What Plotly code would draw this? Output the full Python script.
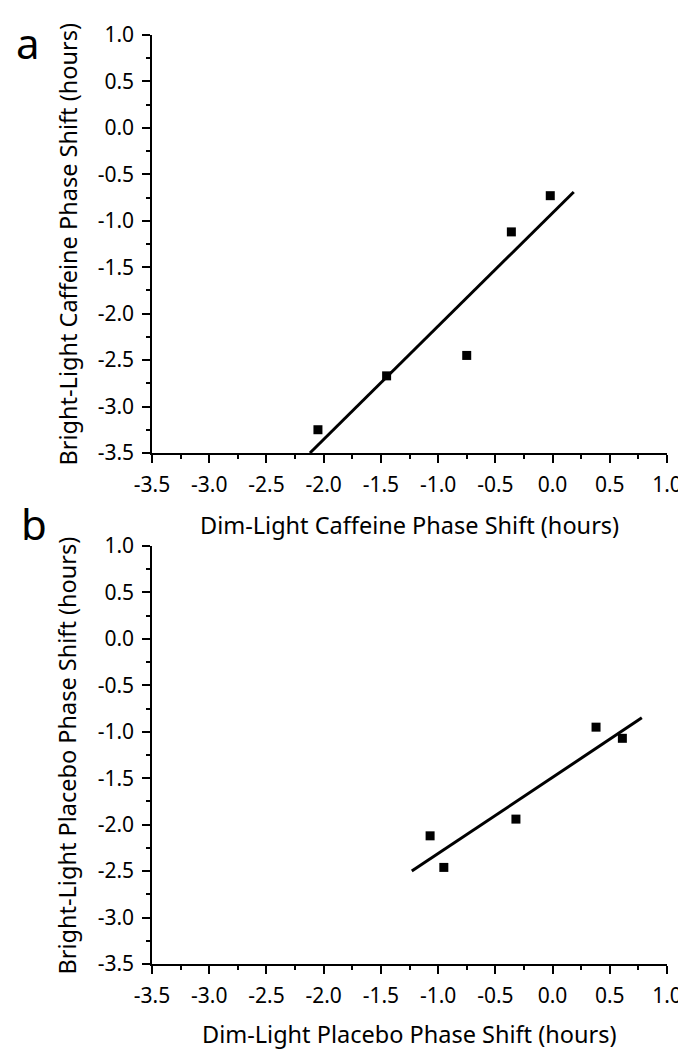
import plotly.graph_objects as go
from plotly.subplots import make_subplots

# ---- data ----
caff_dim = [-2.05, -1.45, -0.75, -0.36, -0.02]
caff_bright = [-3.25, -2.67, -2.45, -1.12, -0.73]
caff_fit_x = [-2.12, 0.185]
caff_fit_y = [-3.50, -0.69]

plac_dim = [-1.07, -0.95, -0.32, 0.38, 0.61]
plac_bright = [-2.12, -2.46, -1.94, -0.95, -1.07]
plac_fit_x = [-1.23, 0.78]
plac_fit_y = [-2.50, -0.85]

tick_vals = [-3.5, -3.0, -2.5, -2.0, -1.5, -1.0, -0.5, 0.0, 0.5, 1.0]
tick_text = ["-3.5", "-3.0", "-2.5", "-2.0", "-1.5", "-1.0", "-0.5", "0.0", "0.5", "1.0"]

x_titles = ["Dim-Light Caffeine Phase Shift (hours)", "Dim-Light Placebo Phase Shift (hours)"]
y_titles = ["Bright-Light Caffeine Phase Shift (hours)", "Bright-Light Placebo Phase Shift (hours)"]
panel_labels = ["a", "b"]

FONT = "Noto Sans"
W, H = 686, 1049
ML, MR, MT, MB = 144, 24, 18, 93

fig = make_subplots(rows=2, cols=1, vertical_spacing=0.1)

for r, (xs, ys, fx, fy) in enumerate([(caff_dim, caff_bright, caff_fit_x, caff_fit_y),
                                       (plac_dim, plac_bright, plac_fit_x, plac_fit_y)], start=1):
    fig.add_trace(go.Scatter(x=fx, y=fy, mode="lines",
                             line=dict(color="black", width=3), showlegend=False), row=r, col=1)
    fig.add_trace(go.Scatter(x=xs, y=ys, mode="markers",
                             marker=dict(symbol="square", size=9, color="black"),
                             showlegend=False), row=r, col=1)

axis_common = dict(
    range=[-3.5, 1.0], tickvals=tick_vals, ticktext=tick_text,
    showgrid=False, zeroline=False, showline=True, linecolor="black", linewidth=1.5,
    ticks="outside", ticklen=8, tickwidth=1.5, tickcolor="black",
    minor=dict(ticks="outside", ticklen=4, tickwidth=1.5, tickcolor="black", dtick=0.25, tick0=0),
    tickfont=dict(family=FONT, size=21, color="black"),
    ticklabelstandoff=4,
)

fig.update_xaxes(**axis_common)
fig.update_yaxes(**axis_common)

plot_h = H - MT - MB
top_bottom_px = 440
bot_top_px = 534
fig.update_layout(
    yaxis=dict(domain=[(H - MB - top_bottom_px) / plot_h, 1.0]),
    yaxis2=dict(domain=[0.0, (H - MB - bot_top_px) / plot_h]),
)

def px_to_paper_x(px):
    return (px - ML) / (W - ML - MR)

def px_to_paper_y(py):
    return (H - MB - py) / plot_h

annotations = []
for i, (xt_y, yt_y) in enumerate([(513, 229), (1027, 745)]):
    annotations.append(dict(text=x_titles[i], xref="paper", yref="paper",
                            x=0.5, y=px_to_paper_y(xt_y), xanchor="center", yanchor="middle",
                            showarrow=False, font=dict(family=FONT, size=23.5, color="black")))
    annotations.append(dict(text=y_titles[i], xref="paper", yref="paper",
                            x=px_to_paper_x(59), y=px_to_paper_y(yt_y), xanchor="center", yanchor="middle",
                            textangle=-90, showarrow=False, font=dict(family=FONT, size=23.5, color="black")))
for lab, (lx, ly) in zip(panel_labels, [(5, 26), (10, 511)]):
    annotations.append(dict(text=lab, xref="paper", yref="paper",
                            x=px_to_paper_x(lx), y=px_to_paper_y(ly), xanchor="left", yanchor="middle",
                            showarrow=False, font=dict(family=FONT, size=42, color="black")))

fig.update_layout(
    width=W, height=H,
    margin=dict(l=ML, r=MR, t=MT, b=MB),
    paper_bgcolor="white", plot_bgcolor="white",
    annotations=annotations,
    showlegend=False,
)

fig.write_html("out.html")
